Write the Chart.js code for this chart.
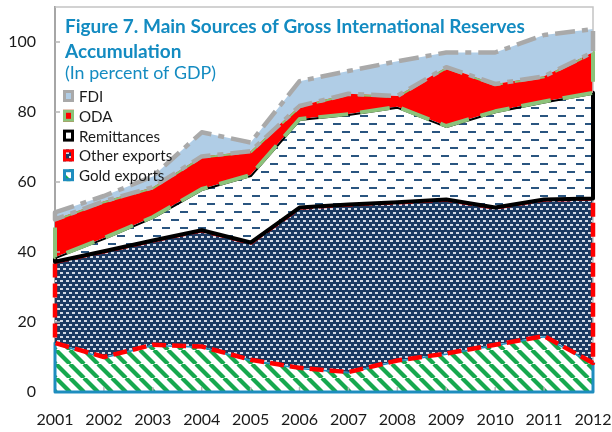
<!DOCTYPE html>
<html><head><meta charset="utf-8">
<script src="https://cdn.jsdelivr.net/npm/chart.js@4.4.1/dist/chart.umd.min.js"></script>
<style>html,body{margin:0;padding:0;background:#fff;}#wrap{width:612px;height:432px;}canvas{display:block;}</style>
</head><body><div id="wrap"><canvas id="c" width="612" height="432"></canvas></div>
<script>
const years = ['2001','2002','2003','2004','2005','2006','2007','2008','2009','2010','2011','2012'];
const goldExports  = [14, 10, 13.5, 13, 9.2, 6.9, 5.7, 9, 11, 13.5, 16, 8.3];
const otherExports = [23.2, 30.2, 29.8, 33.2, 33.5, 45.8, 47.9, 45.2, 44, 39.2, 39, 47];
const remittances  = [1.3, 3.8, 6.7, 11.8, 19.3, 25.3, 25.8, 27.3, 21, 27.5, 28, 30.2];
const oda          = [10.8, 10.5, 8.5, 9.3, 6.8, 3.7, 5.8, 3.1, 16.8, 7.8, 7.2, 11.6];
const fdi          = [2, 1.5, 3.1, 6.9, 2.5, 7.1, 6.5, 9.9, 4.2, 9, 11.8, 6.6];
const yTickValues  = [0, 20, 40, 60, 80, 100];
const seriesNames  = ['Gold exports', 'Other exports', 'Remittances', 'ODA', 'FDI'];
const titleLine1 = 'Figure 7. Main Sources of Gross International Reserves';
const titleLine2 = 'Accumulation';
const subtitle = '(In percent of GDP)';

function makePattern(w, h, draw) {
  const c = document.createElement('canvas'); c.width = w; c.height = h;
  const g = c.getContext('2d'); draw(g);
  return g.createPattern(c, 'repeat');
}
const hatchGreen = makePattern(14, 14, g => {
  g.fillStyle = '#fff'; g.fillRect(0, 0, 14, 14);
  g.strokeStyle = '#16a84e'; g.lineWidth = 4.2;
  for (const k of [-14, 0, 14]) { g.beginPath(); g.moveTo(k, 0); g.lineTo(k + 14, 14); g.stroke(); }
});
const navyDots = makePattern(6, 8, g => {
  g.fillStyle = '#1b3a62'; g.fillRect(0, 0, 6, 8);
  g.fillStyle = '#d4dbe6'; g.fillRect(0, 0, 3, 2); g.fillRect(3, 4, 3, 2);
});
const navyDashes = makePattern(18, 16, g => {
  g.fillStyle = '#fff'; g.fillRect(0, 0, 18, 16);
  g.fillStyle = '#2a5580'; g.fillRect(0, 3, 8, 2); g.fillRect(9, 11, 8, 2);
});
const fills = [hatchGreen, navyDots, navyDashes, '#ff0000', '#b0cde6'];
const outlines = [
  { color: '#1e8dbf', width: 3, dash: [] },
  { color: '#ff0000', width: 4.5, dash: [14, 6] },
  { color: '#000000', width: 4, dash: [] },
  { color: '#8cc27a', width: 4, dash: [30, 12] },
  { color: '#a9a9a9', width: 4.5, dash: [20, 7, 6, 7] }
];
const seriesData = [goldExports, otherExports, remittances, oda, fdi];

const datasets = seriesData.map((d, i) => ({
  label: seriesNames[i], data: d, backgroundColor: fills[i],
  borderColor: 'transparent', borderWidth: 0, pointRadius: 0,
  fill: i === 0 ? 'origin' : '-1', tension: 0
}));

const FONT = 'Lato, "Open Sans", sans-serif';
function fitSize(ctx, text, weight, target) {
  ctx.font = weight + ' 20px ' + FONT;
  return 20 * target / ctx.measureText(text).width;
}

const framePlugin = {
  id: 'frame',
  beforeDatasetsDraw(chart) {
    const { ctx, chartArea: a } = chart;
    ctx.save(); ctx.strokeStyle = '#c4c4c4'; ctx.lineWidth = 1.5;
    ctx.beginPath(); ctx.moveTo(a.left, a.top); ctx.lineTo(a.right, a.top); ctx.lineTo(a.right, a.bottom); ctx.stroke();
    ctx.restore();
  },
  afterDatasetsDraw(chart) {
    const { ctx, chartArea: a } = chart;
    const xs = chart.scales.x, ys = chart.scales.y;
    ctx.save(); ctx.strokeStyle = '#b5b5b5'; ctx.lineWidth = 1.5;
    yTickValues.forEach(v => { if (v === 0) return; const y = ys.getPixelForValue(v); ctx.beginPath(); ctx.moveTo(a.left, y); ctx.lineTo(a.left + 5, y); ctx.stroke(); });
    years.forEach((yr, k) => { const x = xs.getPixelForValue(k); ctx.beginPath(); ctx.moveTo(x, a.bottom); ctx.lineTo(x, a.bottom - 5); ctx.stroke(); });
    ctx.restore();

    const n = chart.data.datasets.length;
    const y0 = ys.getPixelForValue(0);
    const tops = [];
    for (let i = 0; i < n; i++) tops.push(chart.getDatasetMeta(i).data.map(p => ({ x: p.x, y: p.y })));
    const base = tops[0].map(p => ({ x: p.x, y: y0 }));
    const poly = (upper, lower) => {
      const p = new Path2D();
      upper.forEach((pt, k) => k ? p.lineTo(pt.x, pt.y) : p.moveTo(pt.x, pt.y));
      for (let k = lower.length - 1; k >= 0; k--) p.lineTo(lower[k].x, lower[k].y);
      p.closePath(); return p;
    };
    for (let i = 0; i < n; i++) {
      const st = outlines[i];
      ctx.save();
      if (i < n - 1) {
        const clip = new Path2D();
        clip.rect(0, 0, chart.width, chart.height);
        clip.addPath(poly(tops[n - 1], tops[i]));
        ctx.clip(clip, 'evenodd');
      }
      ctx.strokeStyle = st.color; ctx.lineWidth = st.width; ctx.setLineDash(st.dash);
      ctx.lineJoin = 'round'; ctx.lineCap = 'butt';
      ctx.stroke(poly(tops[i], i ? tops[i - 1] : base));
      ctx.restore();
    }
  },
  afterDraw(chart) {
    const ctx = chart.ctx;
    ctx.save();
    ctx.textBaseline = 'alphabetic'; ctx.textAlign = 'left';
    ctx.fillStyle = '#138bc1';
    const s1 = fitSize(ctx, titleLine1, 'bold', 460);
    ctx.font = 'bold ' + s1 + 'px ' + FONT;
    ctx.fillText(titleLine1, 65, 33);
    ctx.fillText(titleLine2, 65, 58);
    const s2 = fitSize(ctx, subtitle, 'normal', 151);
    ctx.font = 'normal ' + s2 + 'px ' + FONT;
    ctx.fillText(subtitle, 65, 79);
    const ls = fitSize(ctx, 'Remittances', 'normal', 81);
    const order = [4, 3, 2, 1, 0];
    order.forEach((idx, r) => {
      const cy = 96 + r * 19.8;
      ctx.fillStyle = fills[idx];
      ctx.fillRect(63, cy - 6, 11, 12);
      ctx.strokeStyle = outlines[idx].color; ctx.lineWidth = 3; ctx.setLineDash([]);
      ctx.strokeRect(64.5, cy - 4.5, 8, 9);
      ctx.fillStyle = '#1a1a1a';
      ctx.font = 'normal ' + ls + 'px ' + FONT;
      ctx.fillText(chart.data.datasets[idx].label, 79, cy + 6);
    });
    ctx.restore();
  }
};

new Chart(document.getElementById('c'), {
  type: 'line',
  data: { labels: years, datasets },
  options: {
    responsive: false, animation: false, devicePixelRatio: 1,
    layout: { padding: { top: 7, right: 19, left: 0, bottom: 0 } },
    plugins: { legend: { display: false }, title: { display: false }, tooltip: { enabled: false },
               filler: { drawTime: 'beforeDatasetsDraw' } },
    elements: { line: { borderWidth: 0 } },
    scales: {
      x: {
        type: 'category', offset: false,
        grid: { display: false, drawTicks: false },
        border: { display: true, color: '#c4c4c4', width: 1 },
        ticks: { color: '#1a1a1a', font: { family: FONT, size: 16 }, padding: 18, maxRotation: 0, autoSkip: false },
        afterFit: s => { s.height = 40; s.paddingLeft = 0; s.paddingRight = 0; s.paddingTop = 0; s.paddingBottom = 0; }
      },
      y: {
        stacked: true, min: 0, max: 110,
        grid: { display: false, drawTicks: false },
        border: { display: true, color: '#a6a6a6', width: 2 },
        ticks: { padding: 19, color: '#1a1a1a', font: { family: FONT, size: 16 } },
        afterBuildTicks: s => { s.ticks = yTickValues.map(v => ({ value: v })); },
        afterFit: s => { s.width = 55; s.paddingTop = 0; s.paddingBottom = 0; s.paddingLeft = 0; s.paddingRight = 0; }
      }
    }
  },
  plugins: [framePlugin]
});
</script></body></html>
